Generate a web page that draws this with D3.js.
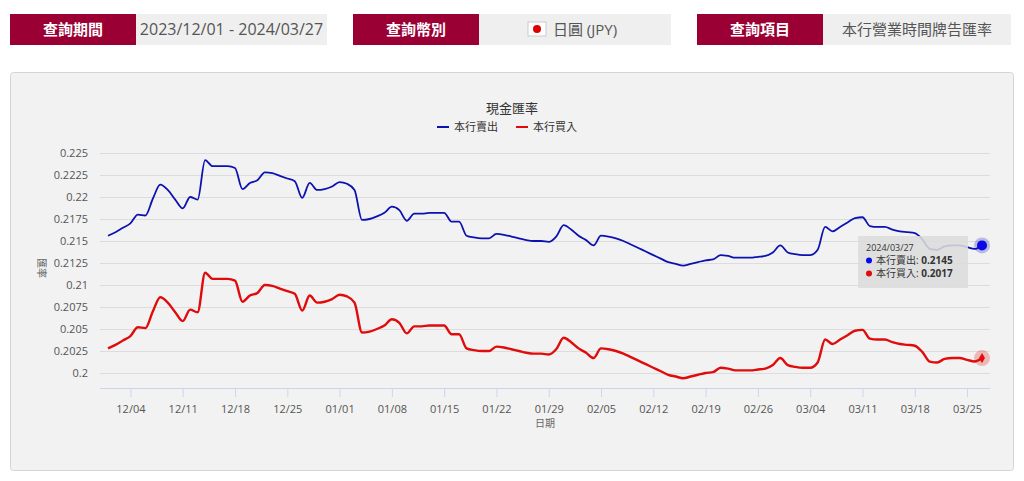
<!DOCTYPE html>
<html><head><meta charset="utf-8">
<script src="https://cdn.jsdelivr.net/npm/d3@7"></script>
<style>
body{margin:0;background:#fff;font-family:"Open Sans","Noto Sans CJK TC",sans-serif;}
</style></head><body>
<div id="chart"></div>
<script>
var startDate = new Date(2023, 11, 1);
var endDate = new Date(2024, 2, 27);
var sellRates = [
  .2156,.2160,.2165,.2170,.2180,.2179,.2198,.2214,.2208,.2197,.2187,.2200,.2197,.2242,.2235,.2235,.2235,.2233,.2209,.2216,.2219,.2228,.2227,.2224,.2221,.2218,.2199,.2216,.2208,.2209,.2212,
  .2217,.2215,.2208,.2174,.2175,.2178,.2182,.2189,.2185,.2173,.2181,.2181,.2182,.2182,.2182,.2172,.2172,.2156,.2154,.2153,.2153,.2158,.2157,.2155,.2153,.2151,.2150,.2150,.2149,.2155,.2168,
  .2163,.2156,.2151,.2145,.2156,.2155,.2153,.2150,.2146,.2142,.2138,.2134,.2130,.2126,.2124,.2122,.2124,.2126,.2128,.2129,.2134,.2133,.2131,.2131,.2131,.2132,.2133,.2137,.2145,
  .2137,.2135,.2134,.2134,.2140,.2166,.2161,.2166,.2171,.2176,.2177,.2167,.2166,.2166,.2163,.2161,.2160,.2159,.2152,.2141,.2140,.2144,.2145,.2145,.2143,.2141,.2145
];
var buyRates = [
  .2028,.2032,.2037,.2042,.2052,.2051,.2070,.2086,.2080,.2069,.2059,.2072,.2069,.2114,.2107,.2107,.2107,.2105,.2081,.2088,.2091,.2100,.2099,.2096,.2093,.2090,.2071,.2088,.2080,.2081,.2084,
  .2089,.2087,.2080,.2046,.2047,.2050,.2054,.2061,.2057,.2045,.2053,.2053,.2054,.2054,.2054,.2044,.2044,.2028,.2026,.2025,.2025,.2030,.2029,.2027,.2025,.2023,.2022,.2022,.2021,.2027,.2040,
  .2035,.2028,.2023,.2017,.2028,.2027,.2025,.2022,.2018,.2014,.2010,.2006,.2002,.1998,.1996,.1994,.1996,.1998,.2000,.2001,.2006,.2005,.2003,.2003,.2003,.2004,.2005,.2009,.2017,
  .2009,.2007,.2006,.2006,.2012,.2038,.2033,.2038,.2043,.2048,.2049,.2039,.2038,.2038,.2035,.2033,.2032,.2031,.2024,.2013,.2012,.2016,.2017,.2017,.2015,.2013,.2017
];
var yTicks = [0.2, 0.2025, 0.205, 0.2075, 0.21, 0.2125, 0.215, 0.2175, 0.22, 0.2225, 0.225];
var seriesNames = ["本行賣出", "本行買入"];
var seriesColors = ["#0c12b0", "#e00b0b"];
var headerLabels = ["查詢期間", "查詢幣別", "查詢項目"];
var headerValues = ["2023/12/01 - 2024/03/27", "日圓 (JPY)", "本行營業時間牌告匯率"];

var dates = d3.timeDay.range(startDate, d3.timeDay.offset(endDate, 1));

var svg = d3.select("#chart").append("svg").attr("width", 1024).attr("height", 481);

// header boxes
var hx = [10, 353, 697], hvw = [191, 192, 188];
headerLabels.forEach(function(l, i) {
  svg.append("rect").attr("x", hx[i]).attr("y", 14).attr("width", 126).attr("height", 31).attr("fill", "#9b0034");
  svg.append("text").attr("x", hx[i] + 63).attr("y", 35).attr("text-anchor", "middle")
    .attr("fill", "#fff").attr("font-size", 15).attr("font-weight", "bold").text(l);
  svg.append("rect").attr("x", hx[i] + 126).attr("y", 14).attr("width", hvw[i]).attr("height", 31).attr("fill", "#efefef");
  svg.append("text").attr("x", hx[i] + 126 + hvw[i] / 2 + (i == 1 ? 10 : 0)).attr("y", 35).attr("text-anchor", "middle")
    .attr("fill", "#555").attr("font-size", i == 0 ? 16 : 15).text(headerValues[i]);
});
// flag
svg.append("rect").attr("x", 528).attr("y", 22).attr("width", 18).attr("height", 14).attr("fill", "#fff").attr("stroke", "#ccc");
svg.append("circle").attr("cx", 537).attr("cy", 29).attr("r", 4).attr("fill", "#d00");

// panel
svg.append("rect").attr("x", 10.5).attr("y", 72.5).attr("width", 1003).attr("height", 398).attr("rx", 3)
  .attr("fill", "#f2f2f2").attr("stroke", "#d4d4d4");

svg.append("text").attr("x", 512).attr("y", 113).attr("text-anchor", "middle").attr("font-size", 13)
  .attr("fill", "#333").text("現金匯率");
seriesNames.forEach(function(n, i) {
  var lx = i == 0 ? 437 : 516;
  svg.append("line").attr("x1", lx).attr("x2", lx + 12).attr("y1", 127).attr("y2", 127)
    .attr("stroke", seriesColors[i]).attr("stroke-width", 2);
  svg.append("text").attr("x", lx + 17).attr("y", 131).attr("font-size", 11).attr("fill", "#333").text(n);
});

var x = d3.scaleTime().domain([startDate, endDate]).range([108, 982]);
var y = d3.scaleLinear().domain([0.2, 0.225]).range([373, 153]);

var g = svg.append("g");
g.selectAll(".grid").data(yTicks).enter().append("line")
  .attr("x1", 100).attr("x2", 990).attr("y1", function(d) { return y(d) + 0.5; }).attr("y2", function(d) { return y(d) + 0.5; })
  .attr("stroke", "#dcdcdc");
g.selectAll(".yl").data(yTicks).enter().append("text")
  .attr("x", 88).attr("y", function(d) { return y(d) + 4; }).attr("text-anchor", "end")
  .attr("font-size", 11).attr("fill", "#555").text(function(d) { return d; });
svg.append("text").attr("transform", "translate(38,268) rotate(90)").attr("text-anchor", "middle")
  .attr("font-size", 10).attr("fill", "#666").text("匯率");

var xTicks = d3.timeDay.range(new Date(2023, 11, 4), endDate, 7);
var xAxis = svg.append("g").attr("transform", "translate(0,388)")
  .call(d3.axisBottom(x).tickValues(xTicks).tickFormat(d3.timeFormat("%m/%d")).tickSize(9).tickPadding(8));
xAxis.select(".domain").attr("d", "M100,0.5H990").attr("stroke", "#ccd6eb");
xAxis.selectAll(".tick line").attr("stroke", "#ccd6eb");
xAxis.selectAll("text").attr("font-size", 11).attr("fill", "#555").attr("font-family", "Open Sans");
svg.append("text").attr("x", 545).attr("y", 427).attr("text-anchor", "middle").attr("font-size", 10).attr("fill", "#666").text("日期");

var line = d3.line().curve(d3.curveMonotoneX)
  .x(function(d, i) { return x(dates[i]); }).y(function(d) { return y(d); });
[sellRates, buyRates].forEach(function(s, i) {
  svg.append("path").datum(s).attr("d", line).attr("fill", "none")
    .attr("stroke", seriesColors[i]).attr("stroke-width", i == 0 ? 1.8 : 2.4);
});

// hover markers
var last = dates.length - 1;
[sellRates, buyRates].forEach(function(s, i) {
  svg.append("circle").attr("cx", x(dates[last])).attr("cy", y(s[last])).attr("r", 8)
    .attr("fill", seriesColors[i]).attr("opacity", 0.25);
});
svg.append("circle").attr("cx", x(dates[last])).attr("cy", y(sellRates[last])).attr("r", 5).attr("fill", "#0a0ae6");
svg.append("path").attr("transform", "translate(" + x(dates[last]) + "," + y(buyRates[last]) + ")")
  .attr("d", d3.symbol(d3.symbolDiamond, 30)).attr("fill", "#e00b0b");

// tooltip
var tt = svg.append("g").attr("transform", "translate(858,236)");
tt.append("rect").attr("width", 110).attr("height", 52).attr("fill", "#dcdcdc").attr("opacity", 0.88);
tt.append("text").attr("x", 8).attr("y", 15).attr("font-size", 9).attr("fill", "#333").text("2024/03/27");
[sellRates, buyRates].forEach(function(s, i) {
  var ty = 28 + i * 13;
  tt.append("circle").attr("cx", 11).attr("cy", ty - 3.5).attr("r", 3).attr("fill", i == 0 ? "#0a0ae6" : "#e00b0b");
  var t = tt.append("text").attr("x", 18).attr("y", ty).attr("font-size", 10).attr("fill", "#333");
  t.append("tspan").text(seriesNames[i] + ": ");
  t.append("tspan").attr("font-weight", "bold").text(s[last]);
});
</script>
</body></html>
